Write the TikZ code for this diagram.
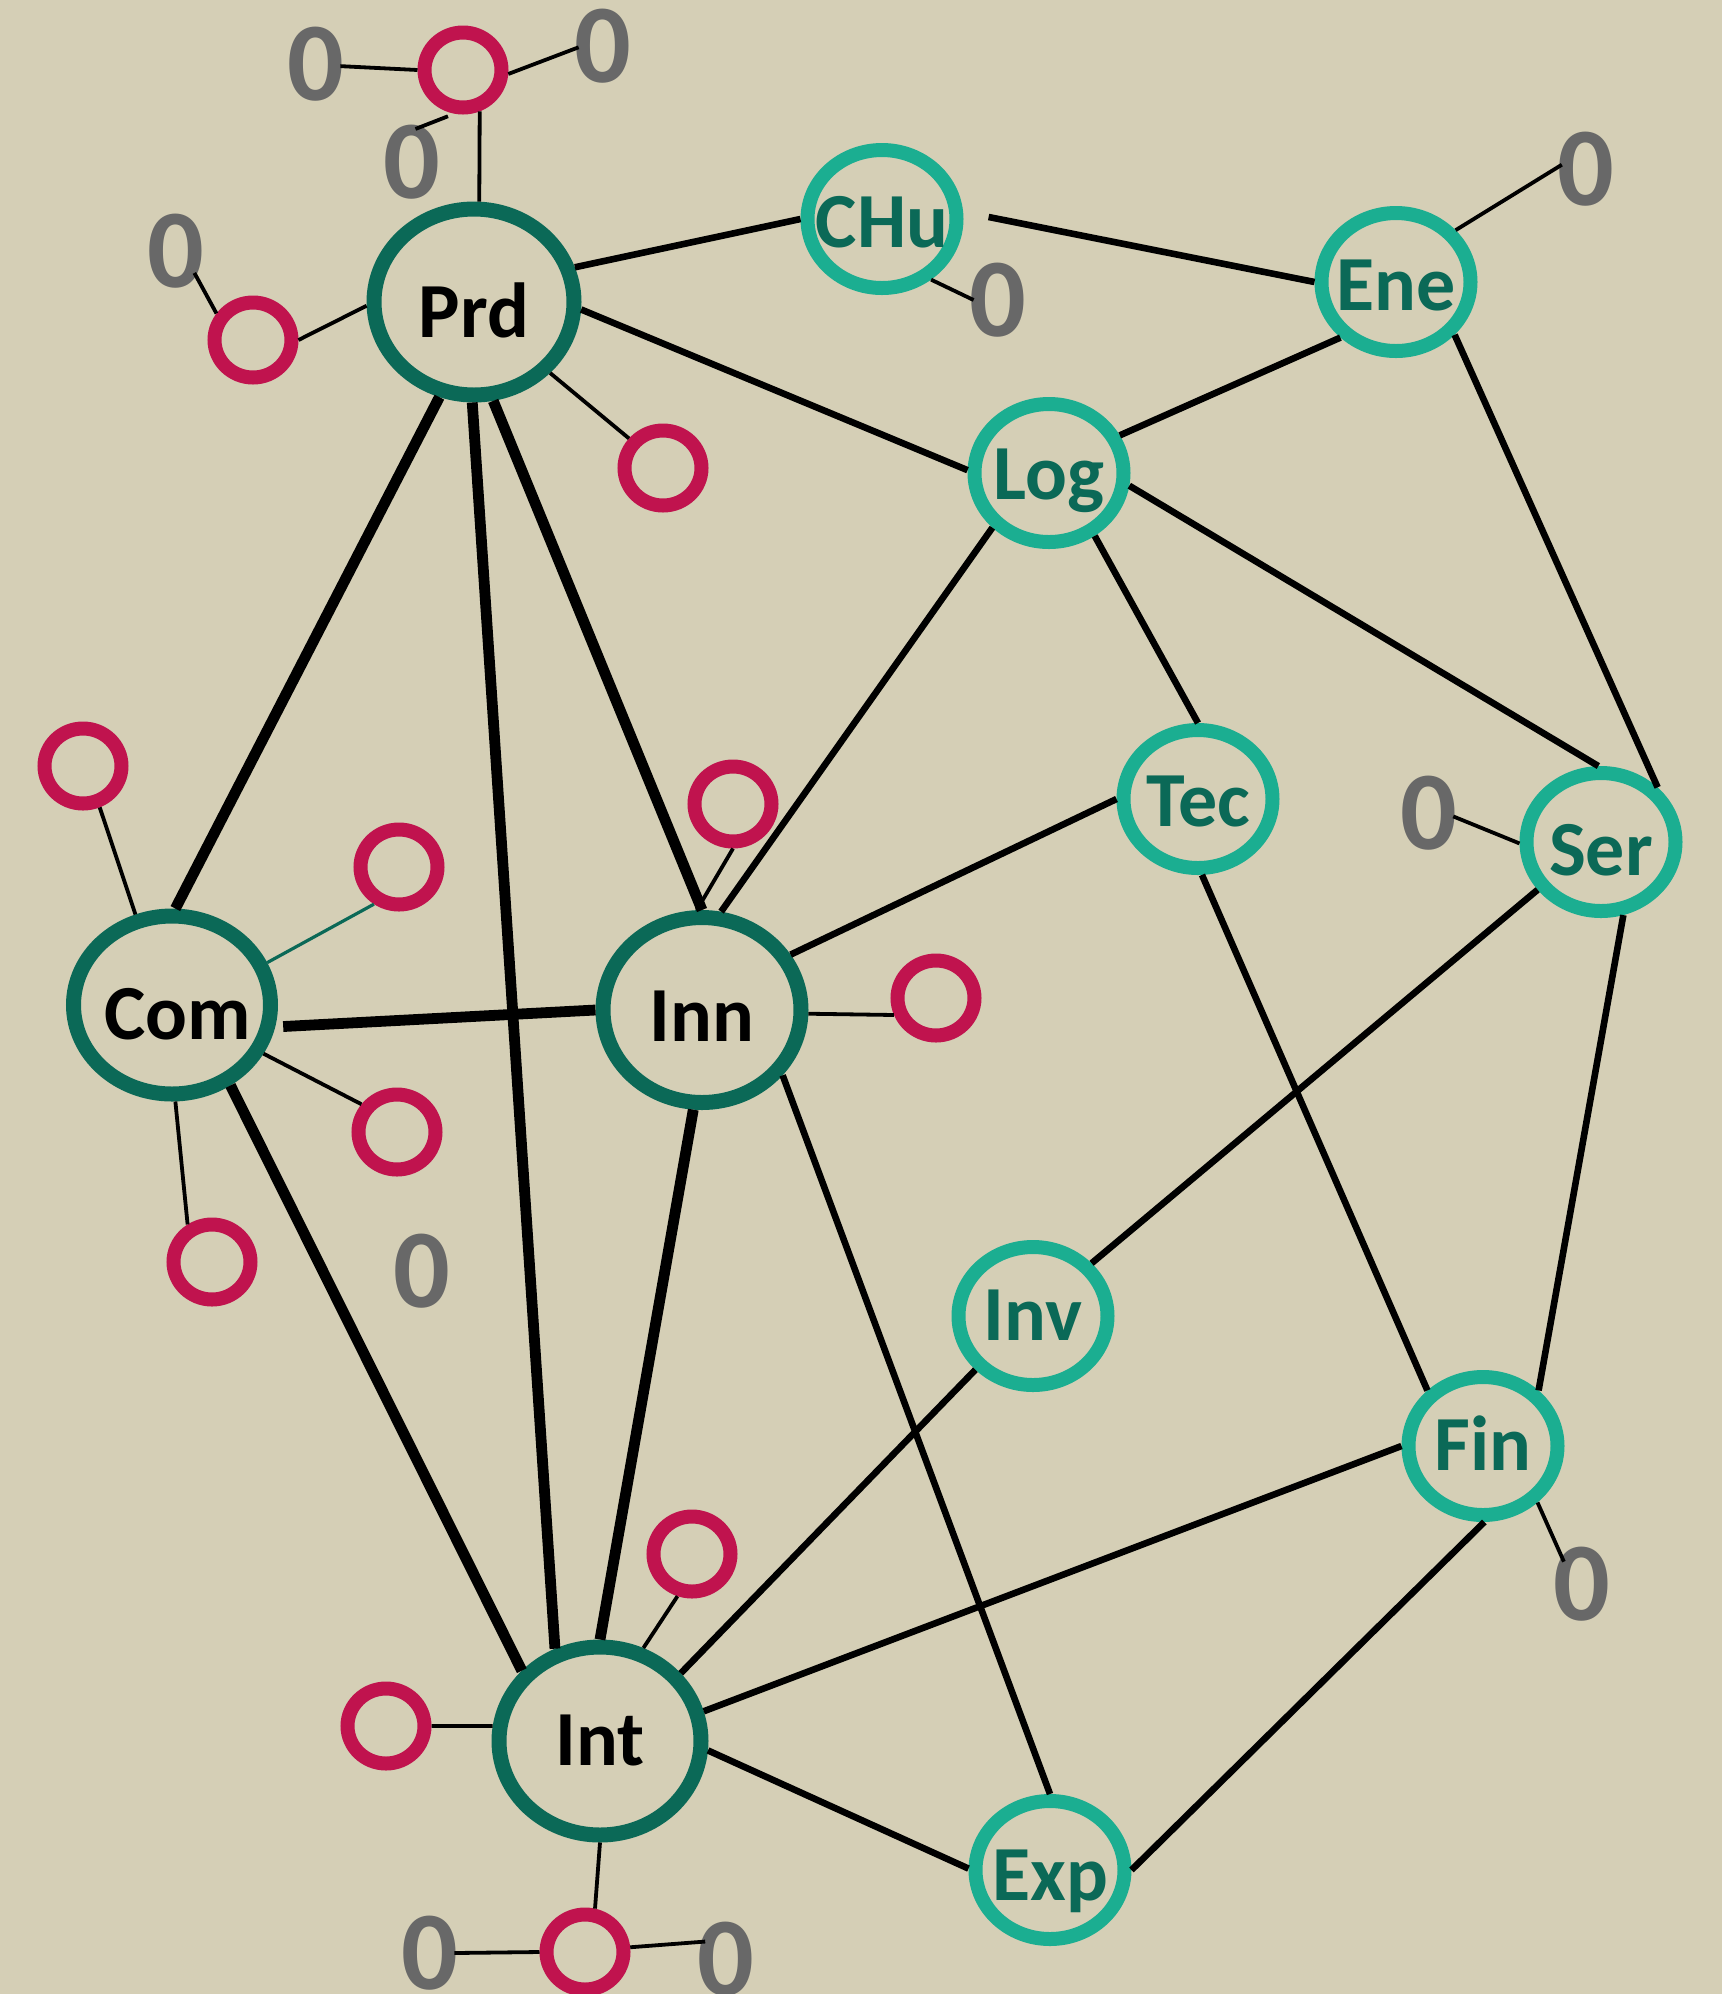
\documentclass[tikz,border=0pt]{standalone}
\usepackage{fontspec}
\setmainfont{Carlito}
\usetikzlibrary{shapes.geometric}
\definecolor{bgc}{HTML}{D5CFB6}
\definecolor{dkg}{HTML}{0B6957}
\definecolor{tealc}{HTML}{1BAE91}
\definecolor{crim}{HTML}{C0134E}
\definecolor{grayc}{HTML}{686868}
\newcommand\zerotxt{\makebox[0pt]{\smash{\raisebox{-.325em}{0}}}}
\begin{document}
\begin{tikzpicture}[x=0.5pt,y=-0.5pt,
  dk/.style={ellipse, draw=dkg, line width=7.5pt, inner sep=0pt, minimum width=100pt, minimum height=93pt},
  tl/.style={ellipse, draw=tealc, line width=7pt, inner sep=0pt, minimum width=74.5pt, minimum height=69pt},
  cr/.style={ellipse, draw=crim, line width=7pt, inner sep=0pt, minimum width=38.5pt, minimum height=37.5pt},
  zero/.style={ellipse, inner sep=0pt, minimum width=24pt, minimum height=33pt, text=grayc, font=\fontsize{56pt}{56pt}\selectfont\bfseries},
  dlab/.style={anchor=base, font=\fontsize{39pt}{39pt}\selectfont\bfseries, text=black, inner sep=0pt},
  tlab/.style={dlab, text=dkg},
  thk/.style={line width=5.4pt},
  nrm/.style={line width=3.3pt},
  thn/.style={line width=1.9pt},
  thng/.style={line width=1.6pt, draw=dkg}]
\fill[bgc] (0,0) rectangle (1722,1994);
\useasboundingbox (0,0) rectangle (1722,1994);

% main nodes
\node[dk] (Prd) at (474,302) {};
\node[dk, minimum width=98.5pt, minimum height=89pt] (Com) at (172,1005) {};
\node[dk, minimum width=99pt, minimum height=92.5pt] (Inn) at (702,1010) {};
\node[dk, minimum width=101pt, minimum height=94pt] (Int) at (600,1741) {};
\node[tl] (CHu) at (882,219) {};
\node[tl] (Ene) at (1396,282) {};
\node[tl] (Log) at (1049,473) {};
\node[tl] (Tec) at (1198,799) {};
\node[tl] (Ser) at (1601,842) {};
\node[tl] (Inv) at (1033,1316) {};
\node[tl] (Fin) at (1483,1446) {};
\node[tl] (Exp) at (1050,1870) {};

% labels
\node[dlab] (Prd-l) at ([yshift=-17.8pt]Prd.center) {Prd};
\node[dlab] (Com-l) at ([xshift=3pt,yshift=-17.3pt]Com.center) {Com};
\node[dlab] (Inn-l) at ([yshift=-15.8pt]Inn.center) {Inn};
\node[dlab] (Int-l) at ([yshift=-12.3pt]Int.center) {Int};
\node[tlab] (CHu-l) at ([yshift=-14.3pt]CHu.center) {CHu};
\node[tlab] (Ene-l) at ([yshift=-14.3pt]Ene.center) {Ene};
\node[tlab] (Log-l) at ([yshift=-13.3pt]Log.center) {Log};
\node[tlab] (Tec-l) at ([yshift=-13.8pt]Tec.center) {Tec};
\node[tlab] (Ser-l) at ([yshift=-16.8pt]Ser.center) {Ser};
\node[tlab] (Inv-l) at ([yshift=-12.3pt]Inv.center) {Inv};
\node[tlab] (Fin-l) at ([yshift=-12.3pt]Fin.center) {Fin};
\node[tlab] (Exp-l) at ([yshift=-15.3pt]Exp.center) {Exp};

% crimson circles
\node[cr] (C1) at (463,70) {};
\node[cr] (C2) at (253,340) {};
\node[cr] (C3) at (663,468) {};
\node[cr] (C4) at (83,766) {};
\node[cr] (C5) at (399,867) {};
\node[cr] (C6) at (733,804) {};
\node[cr] (C7) at (936,998) {};
\node[cr] (C8) at (397,1132) {};
\node[cr] (C9) at (212,1262) {};
\node[cr] (C10) at (692,1554) {};
\node[cr] (C11) at (386,1726) {};
\node[cr] (C12) at (585,1952) {};

% gray zeros
\node[zero] (G1) at (316,64) {\zerotxt};
\node[zero] (G2) at (603,46) {\zerotxt};
\node[zero] (G3) at (412,162) {\zerotxt};
\node[zero] (G4) at (176,251) {\zerotxt};
\node[zero] (G5) at (998,300) {\zerotxt};
\node[zero] (G6) at (1586,169) {\zerotxt};
\node[zero] (G7) at (1429,813) {\zerotxt};
\node[zero] (G8) at (422,1271) {\zerotxt};
\node[zero] (G9) at (1582,1584) {\zerotxt};
\node[zero] (G10) at (430,1953) {\zerotxt};
\node[zero] (G11) at (726,1959) {\zerotxt};

% thick edges
\draw[thk] (Prd.-110) -- (Com.88);
\draw[thk] (Prd.-91.5) -- (Int.116);
\draw[thk] (Prd.-79) -- (Inn.90.5);
\draw[thk, shorten <=4pt] (Com.-12) -- (Inn.180);
\draw[thk] (Com.-54.5) -- (Int.138);
\draw[thk] (Inn.-95) -- (Int.90);

% normal edges
\draw[nrm] (Prd.19) -- (CHu.180);
\draw[nrm] (Prd.-4) -- (Log.178);
\draw[nrm, shorten <=13pt] (CHu.5) -- (Ene.180);
\draw[nrm] (Ene.-135) -- (Log.28);
\draw[nrm] (Ene.-42) -- (Ser.44);
\draw[nrm] (Log.-136) -- (Inn.79);
\draw[nrm] (Log.-54) -- (Tec.90);
\draw[nrm] (Log.-9) -- (Ser.92);
\draw[nrm] (Tec.180) -- (Inn.32);
\draw[nrm] (Tec.-87) -- (Fin.135);
\draw[nrm] (Ser.-143) -- (Inv.42);
\draw[nrm] (Ser.-73) -- (Fin.45);
\draw[nrm] (Inn.-39) -- (Exp.90);
\draw[nrm] (Inv.-137) -- (Int.40);
\draw[nrm] (Fin.180) -- (Int.16);
\draw[nrm] (Fin.-89) -- (Exp.0);
\draw[nrm] (Int.-5) -- (Exp.179);

% thin edges
\draw[thn] (Prd.87) -- (C1.-68);
\draw[thn] (Prd.-178) -- (C2.0);
\draw[thn] (Prd.-43.5) -- (C3.139);
\draw[thn] (C2.144) -- (G4.-50);
\draw[thn] (C1.180) -- (G1.-5);
\draw[thn] (C1.-5) -- (G2.183);
\draw[thn, shorten >=3.5pt] (G3.84) -- (C1.-101);
\draw[thn] (CHu.-51) -- (G5.180);
\draw[thn] (Ene.41) -- (G6.170);
\draw[thn] (Ser.181) -- (G7.-8);
\draw[thn] (Fin.-46) -- (G9.129);
\draw[thn] (Com.112) -- (C4.-68);
\draw[thng] (Com.24.5) -- (C5.-124);
\draw[thn] (Com.-28.5) -- (C8.142);
\draw[thn] (Com.-88) -- (C9.123);
\draw[thn] (Inn.93.5) -- (C6.-90);
\draw[thn] (Inn.-2) -- (C7.-158);
\draw[thn] (Int.65) -- (C10.-109);
\draw[thn] (Int.172) -- (C11.0);
\draw[thn] (Int.-90) -- (C12.77);
\draw[thn] (C12.180) -- (G10.0);
\draw[thn] (C12.6) -- (G11.140);
\end{tikzpicture}
\end{document}
